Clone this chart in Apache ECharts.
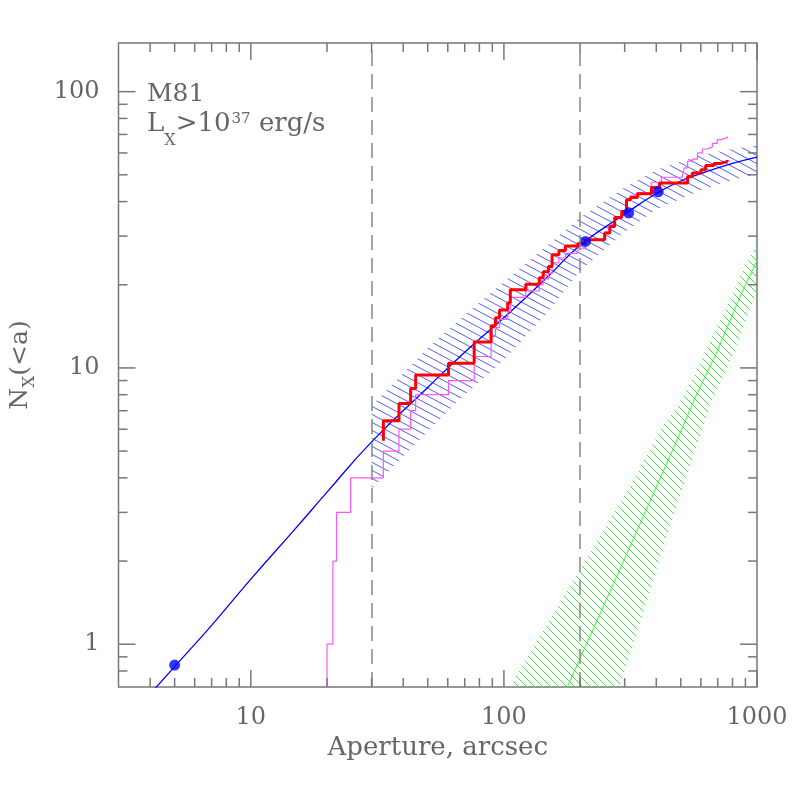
<!DOCTYPE html>
<html>
<head>
<meta charset="utf-8">
<script src="https://cdn.jsdelivr.net/npm/echarts@6/dist/echarts.min.js"></script>
<style>
  html, body { margin: 0; padding: 0; background: #fff; }
  #chart { width: 797px; height: 797px; }
</style>
</head>
<body>
<div id="chart"></div>
<script>
// model fit (blue line) and its band
const fitA = [4, 5, 7, 10, 15, 20, 30, 50, 70, 100, 150, 200, 300, 400, 500, 600, 800, 1000]
const fitN = [0.66, 0.83, 1.17, 1.72, 2.62, 3.55, 5.4, 8.5, 11.4, 15.2, 21.5, 27.8, 36, 42.8, 47.5, 50.5, 55, 58]
const fitBandA = [30, 50, 70, 100, 150, 200, 300, 400, 600, 800, 1000]
const fitBandHi = [7.3, 11.8, 15.5, 20.5, 28, 35, 45, 52, 59, 62, 64]
const fitBandLo = [3.65, 5.9, 8, 10.7, 16, 22.5, 31, 37.5, 44, 48, 50]

// blue points
const ptsA = [5, 210, 311, 407]
const ptsN = [0.84, 28.7, 36.4, 43.4]

// background contribution (green) and its band
const bkgA = [165, 178, 300, 488, 573, 694, 859, 1000]
const bkgN = [0.6, 0.7, 2.04, 5.6, 7.9, 11.4, 18.2, 24.5]
const bkgHiA = [105, 198, 311, 425, 487, 565, 657, 762, 859, 1000]
const bkgHiN = [0.7, 1.83, 3.65, 6.18, 7.29, 9.36, 12.7, 16.7, 21.5, 28.4]
const bkgLoA = [285, 349, 458, 615, 657, 737, 810, 885, 1000]
const bkgLoN = [0.7, 1.24, 2.77, 6.18, 7.5, 9.36, 11.4, 14.2, 18.9]

// raw counts (magenta) and corrected counts (red), cumulative steps
const rawA = [20, 20, 21.1, 21.8, 24.8, 33.4, 38.5, 42.8, 44.8, 60.4, 76.3, 89, 92.6, 96.1, 103.5, 106, 122, 138, 143, 150, 155, 165, 175, 196, 210, 250, 262, 274, 292, 305, 316, 334, 382, 419, 508, 516, 532, 555, 582, 608, 634, 666, 697, 718, 762]
const rawN = [0.5, 1, 2, 3, 4, 5, 6, 7, 8, 9, 11, 13, 14, 15, 16, 18, 19, 20, 21, 22, 24, 25, 26, 27, 29, 31, 33, 35, 37, 41, 42, 43, 47, 49, 50, 53, 56, 57, 60, 62, 63, 65, 67, 68, 69]
const corrA = [33.4, 33.4, 38.5, 42.8, 44.8, 60.4, 76.3, 89, 92.6, 96.1, 103.5, 106, 122, 138, 143, 150, 155, 165, 175, 196, 210, 250, 262, 274, 292, 305, 316, 337, 383, 412, 532, 555, 600, 627, 676, 718, 762]
const corrN = [5.45, 6.44, 7.44, 8.43, 9.42, 10.4, 12.4, 14.2, 15.2, 16.2, 17.2, 19.2, 20.1, 21.2, 22.3, 23.3, 25.7, 26.6, 27.6, 28.2, 29.1, 30.8, 32.5, 35, 36.8, 40.6, 41.4, 42.7, 45, 46.7, 49.3, 50.8, 52.2, 54, 55, 55.9, 56.6]

// vertical reference apertures
const markAperture = [30, 200]

// axis ticks
const xMajor = [10, 100, 1000]
const xMinor = [4, 5, 6, 7, 8, 9, 20, 30, 40, 50, 60, 70, 80, 90, 200, 300, 400, 500, 600, 700, 800, 900]
const yMajor = [1, 10, 100]
const yMinor = [0.8, 0.9, 2, 3, 4, 5, 6, 7, 8, 9, 20, 30, 40, 50, 60, 70, 80, 90]

const FONT = '"DejaVu Serif", serif'
const TXT = '#666'
const AXC = '#777'

function zip(a, b) { return a.map((v, i) => [v, b[i]]) }

function hatch(w, h, color) {
  const c = document.createElement('canvas')
  c.width = w
  c.height = h
  const g = c.getContext('2d')
  g.strokeStyle = color
  g.lineWidth = 1
  for (const dx of [-w, 0, w]) {
    for (const dy of [-h, 0, h]) {
      g.beginPath()
      g.moveTo(dx, dy)
      g.lineTo(dx + w, dy + h)
      g.stroke()
    }
  }
  return { image: c, repeat: 'repeat' }
}

function band(aHi, nHi, aLo, nLo, pattern) {
  return {
    type: 'custom',
    coordinateSystem: 'cartesian2d',
    silent: true,
    data: [[aHi[0], nHi[0]]],
    renderItem(params, api) {
      const pts = aHi.map((a, i) => api.coord([a, nHi[i]]))
      for (let i = aLo.length - 1; i >= 0; i--) pts.push(api.coord([aLo[i], nLo[i]]))
      return { type: 'polygon', shape: { points: pts }, style: { fill: pattern, stroke: null } }
    }
  }
}

function ticks(values, isX, len) {
  return {
    type: 'custom',
    coordinateSystem: 'cartesian2d',
    silent: true,
    z: 5,
    data: values.map(v => isX ? [v, 1] : [10, v]),
    renderItem(params, api) {
      const cs = params.coordSys
      const st = { stroke: AXC, lineWidth: 1.5 }
      if (isX) {
        const x = api.coord([api.value(0), 1])[0]
        return { type: 'group', children: [
          { type: 'line', shape: { x1: x, y1: cs.y + cs.height, x2: x, y2: cs.y + cs.height - len }, style: st },
          { type: 'line', shape: { x1: x, y1: cs.y, x2: x, y2: cs.y + len }, style: st }
        ] }
      }
      const y = api.coord([10, api.value(1)])[1]
      return { type: 'group', children: [
        { type: 'line', shape: { x1: cs.x, y1: y, x2: cs.x + len, y2: y }, style: st },
        { type: 'line', shape: { x1: cs.x + cs.width, y1: y, x2: cs.x + cs.width - len, y2: y }, style: st }
      ] }
    }
  }
}

function decadeLabel(v) {
  const l = Math.log10(v)
  return Math.abs(l - Math.round(l)) < 1e-6 ? String(Math.round(v)) : ''
}

const chart = echarts.init(document.getElementById('chart'))

chart.setOption({
  animation: false,
  backgroundColor: '#fff',
  grid: {
    left: 111, right: 40, top: 43, bottom: 110,
    show: true, borderColor: AXC, borderWidth: 1.5, backgroundColor: 'transparent'
  },
  xAxis: {
    type: 'log',
    logBase: 10,
    min: 3,
    max: 1000,
    axisLine: { show: false },
    axisTick: { show: false },
    splitLine: { show: false },
    axisLabel: { formatter: decadeLabel, color: TXT, fontFamily: FONT, fontSize: 24, margin: 19 },
    name: 'Aperture, arcsec',
    nameLocation: 'middle',
    nameGap: 48,
    nameTextStyle: { color: TXT, fontFamily: FONT, fontSize: 26 }
  },
  yAxis: {
    type: 'log',
    logBase: 10,
    min: 0.7,
    max: 150,
    axisLine: { show: false },
    axisTick: { show: false },
    splitLine: { show: false },
    axisLabel: { formatter: decadeLabel, color: TXT, fontFamily: FONT, fontSize: 24, margin: 19 },
    name: '{t|N}{s|X}{t|(<a)}',
    nameLocation: 'middle',
    nameGap: 80,
    nameTextStyle: {
      rich: {
        t: { color: TXT, fontFamily: FONT, fontSize: 25, lineHeight: 36, verticalAlign: 'middle' },
        s: { color: TXT, fontFamily: FONT, fontSize: 17, lineHeight: 17, verticalAlign: 'bottom' }
      }
    }
  },
  graphic: [
    {
      type: 'text', left: 147, top: 82,
      style: { text: 'M81', fill: TXT, font: '25px ' + FONT }
    },
    {
      type: 'text', left: 147, top: 111,
      style: {
        text: '{t|L}{s|X}{t|>10}{p|37}{t| erg/s}',
        rich: {
          t: { fill: TXT, fontFamily: FONT, fontSize: 26, lineHeight: 50, verticalAlign: 'middle' },
          s: { fill: TXT, fontFamily: FONT, fontSize: 16, lineHeight: 12, verticalAlign: 'bottom' },
          p: { fill: TXT, fontFamily: FONT, fontSize: 15, verticalAlign: 'top', padding: [13, 0, 0, 1] }
        }
      }
    }
  ],
  series: [
    band(fitBandA, fitBandHi, fitBandA, fitBandLo, hatch(15, 8, '#5060ff')),
    band(bkgHiA, bkgHiN, bkgLoA, bkgLoN, hatch(8, 8, '#40f040')),
    {
      type: 'line',
      data: zip(bkgA, bkgN),
      showSymbol: false,
      lineStyle: { color: '#30ff30', width: 1 }
    },
    {
      type: 'line',
      data: zip(fitA, fitN),
      smooth: true,
      showSymbol: false,
      lineStyle: { color: '#0000ff', width: 1.3 }
    },
    {
      type: 'line',
      data: zip(rawA, rawN),
      step: 'end',
      showSymbol: false,
      lineStyle: { color: '#ff55ff', width: 1.2 },
      markLine: {
        silent: true,
        symbol: ['none', 'none'],
        label: { show: false },
        lineStyle: { color: '#888', type: [15, 8], width: 1.5 },
        data: markAperture.map(v => ({ xAxis: v }))
      }
    },
    {
      type: 'line',
      data: zip(corrA, corrN),
      step: 'end',
      showSymbol: false,
      lineStyle: { color: '#ff0000', width: 3 }
    },
    {
      type: 'scatter',
      data: zip(ptsA, ptsN),
      symbolSize: 11,
      itemStyle: { color: '#0000ff' },
      z: 4
    },
    ticks(xMajor, true, 17),
    ticks(xMinor, true, 9),
    ticks(yMajor, false, 17),
    ticks(yMinor, false, 9)
  ]
})
</script>
</body>
</html>
